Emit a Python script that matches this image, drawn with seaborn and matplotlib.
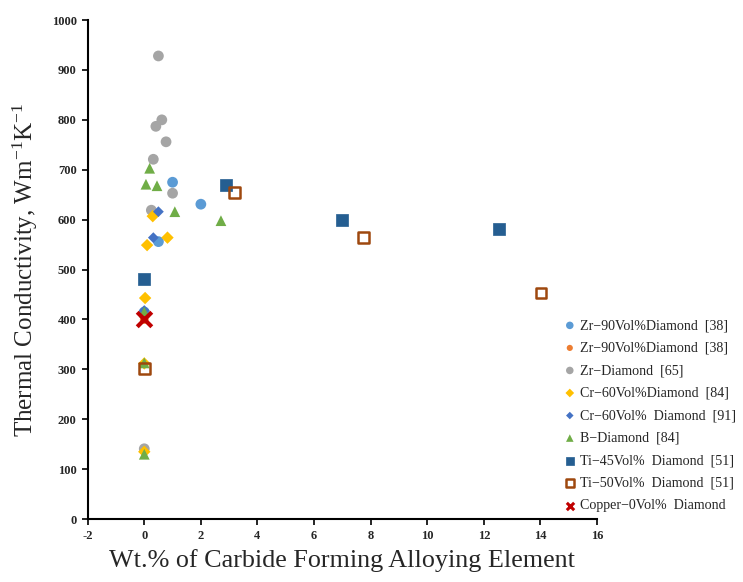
import matplotlib
matplotlib.use("Agg")
import matplotlib.pyplot as plt
import seaborn as sns
import pandas as pd

# ---- data ----
zr90_a_x = [1.0, 2.0, 0.5, 0.0]
zr90_a_y = [675, 631, 556, 415]
zr90_b_x = [0.0]
zr90_b_y = [400]
zr_x = [0.5, 0.62, 0.41, 0.77, 0.32, 1.0, 0.25, 0.0]
zr_y = [928, 800, 787, 756, 721, 653, 619, 141]
cr84_x = [0.3, 0.82, 0.1, 0.03, 0.0, 0.0]
cr84_y = [607, 564, 549, 443, 312, 135]
cr91_x = [0.5, 0.32, 0.0]
cr91_y = [616, 564, 418]
b_x = [0.19, 0.06, 0.45, 1.08, 2.71, 0.0, 0.0, 0.0]
b_y = [703, 671, 668, 616, 598, 415, 313, 130]
ti45_x = [0.0, 2.89, 6.98, 12.54]
ti45_y = [481, 669, 599, 581]
ti50_x = [0.0, 3.2, 7.75, 14.02]
ti50_y = [302, 654, 564, 453]
cu_x = [0.0]
cu_y = [400]

labels = ["Zr\u221290Vol%Diamond  [38]", "Zr\u221290Vol%Diamond  [38]", "Zr\u2212Diamond  [65]",
          "Cr\u221260Vol%Diamond  [84]", "Cr\u221260Vol%  Diamond  [91]", "B\u2212Diamond  [84]",
          "Ti\u221245Vol%  Diamond  [51]", "Ti\u221250Vol%  Diamond  [51]", "Copper\u22120Vol%  Diamond"]

sns.set_theme(style="white")
plt.rcParams['font.family'] = ['Liberation Serif', 'DejaVu Serif']
plt.rcParams['axes.unicode_minus'] = False
plt.rcParams['mathtext.fontset'] = 'custom'
plt.rcParams['mathtext.rm'] = 'Liberation Serif'
plt.rcParams['mathtext.it'] = 'Liberation Serif:italic'
plt.rcParams['mathtext.bf'] = 'Liberation Serif:bold'

fig = plt.figure(figsize=(7.43, 5.82), dpi=100)
ax = fig.add_axes([0.118, 0.108, 0.6855, 0.8576])

sns.scatterplot(x=zr90_b_x, y=zr90_b_y, ax=ax, marker='o', color='#ED7D31', s=40, edgecolor='none', label=labels[1], zorder=2)
sns.scatterplot(x=zr90_a_x, y=zr90_a_y, ax=ax, marker='o', color='#5B9BD5', s=60, edgecolor='none', label=labels[0], zorder=3)
sns.scatterplot(x=zr_x, y=zr_y, ax=ax, marker='o', color='#A5A5A5', s=60, edgecolor='none', label=labels[2], zorder=3)
sns.scatterplot(x=cr84_x, y=cr84_y, ax=ax, marker='D', color='#FFC000', s=40, edgecolor='none', label=labels[3], zorder=3)
sns.scatterplot(x=cr91_x, y=cr91_y, ax=ax, marker='D', color='#4472C4', s=30, edgecolor='none', label=labels[4], zorder=3)
sns.scatterplot(x=b_x, y=b_y, ax=ax, marker='^', color='#70AD47', s=60, edgecolor='none', label=labels[5], zorder=3)
sns.scatterplot(x=ti45_x, y=ti45_y, ax=ax, marker='s', color='#255E91', s=75, edgecolor='#255E91', linewidth=0.5, label=labels[6], zorder=3)
sns.scatterplot(x=ti50_x, y=ti50_y, ax=ax, marker='s', facecolor='none', edgecolor='#9E480E', s=60, linewidth=1.8, label=labels[7], zorder=3)
sns.scatterplot(x=cu_x, y=cu_y, ax=ax, marker='x', color='#C00000', s=110, linewidth=3, label=labels[8], zorder=4)

ax.set_xlim(-2, 16)
ax.set_ylim(0, 1000)
ax.set_xticks(range(-2, 17, 2))
ax.set_yticks(range(0, 1001, 100))
for sp in ['top', 'right']:
    ax.spines[sp].set_visible(False)
for sp in ['left', 'bottom']:
    ax.spines[sp].set_color('black')
    ax.spines[sp].set_linewidth(1.5)
ax.tick_params(axis='both', which='major', length=4, width=1.2, color='black', direction='out',
               bottom=True, left=True, labelsize=9, pad=4)
for t in ax.get_xticklabels() + ax.get_yticklabels():
    t.set_fontweight('bold')

ax.set_xlabel("Wt.% of Carbide Forming Alloying Element", fontsize=18.8, labelpad=5)
ax.set_ylabel("Thermal Conductivity, Wm$^{-1}$K$^{-1}$", fontsize=18, labelpad=8)

# reorder legend
h, l = ax.get_legend_handles_labels()
order = [1, 0, 2, 3, 4, 5, 6, 7, 8]
leg = ax.legend([h[i] for i in order], [l[i] for i in order], loc='lower left',
                bbox_to_anchor=(0.748, 0.11), bbox_transform=fig.transFigure,
                frameon=False, fontsize=10.1, handletextpad=0.1, labelspacing=0.68,
                markerscale=0.7, handlelength=1.2, borderaxespad=0)
leg.legend_handles[-1].set_sizes([28])
leg.legend_handles[-1].set_linewidth(2.2)

fig.savefig("out.png", dpi=100)
